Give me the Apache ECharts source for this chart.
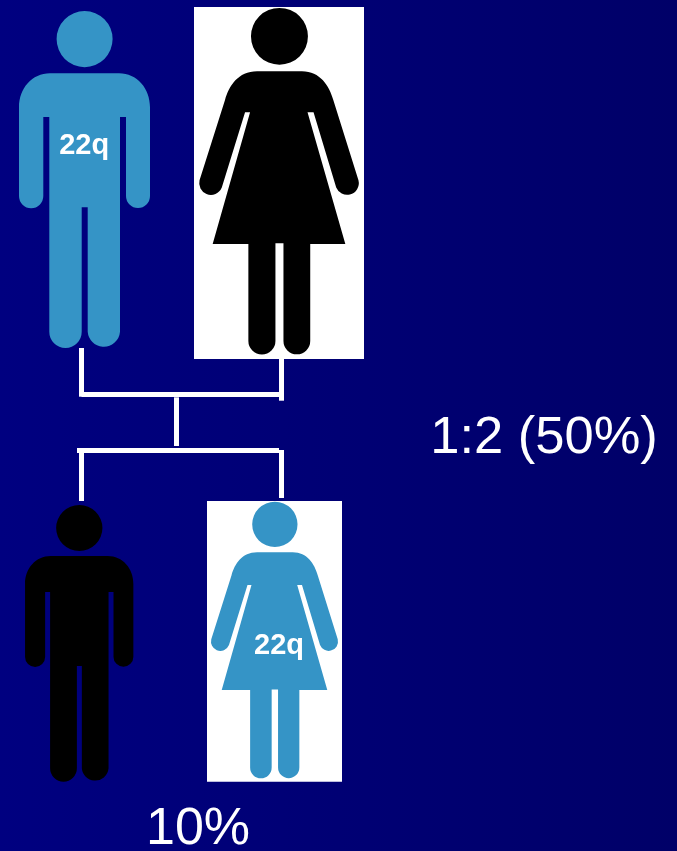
<!DOCTYPE html>
<html>
<head>
<meta charset="utf-8">
<style>html,body{margin:0;padding:0;background:#000070}#c{width:677px;height:851px}</style>
<script src="https://cdn.jsdelivr.net/npm/echarts@6/dist/echarts.min.js"></script>
</head>
<body>
<div id="c"></div>
<script>
// Figure outlines (own local units; the symbol scales each to its bounding box)
const malePath = 'path://M84.6 11A28 28 0 0 1 84.6 67A28 28 0 0 1 84.6 11Z' +
  'M50 73H119C137 73 150 88 150 107V195.6A12 12 0 0 1 126 195.6V116.7H120V331A16.2 16.2 0 0 1 87.7 331V206.7H81.7V331A16.2 16.2 0 0 1 49.3 331V116.7H43.3V195.6A12 12 0 0 1 19 195.6V107C19 88 32 73 50 73Z';
const femalePath = 'path://M279.3 8A28.4 28.4 0 0 1 279.3 64.8A28.4 28.4 0 0 1 279.3 8Z' +
  'M257 71.3H301.7C320 71.3 329 86 333 100L358.1 180.4A11.7 11.7 0 0 1 335.9 187.6L313.3 112.3H307.3L345 244H310V341A13.3 13.3 0 0 1 283.3 341V243.3H275.3V341A13.5 13.5 0 0 1 248.3 341V244H212.7L250 112.3H245L221.8 187.6A11.7 11.7 0 0 1 199.6 180.4L225 100C229 86 238 71.3 257 71.3Z';

const figureNames = ['father', 'mother', 'son', 'daughter'];
const figureCentreX = [84.5, 279, 79.2, 274.5];
const figureCentreY = [179.5, 181.2, 643.3, 640];
const figureWidth = [131, 159.6, 108.3, 127];
const figureHeight = [337, 346.5, 276.7, 276.6];
const figureColor = ['#3594c6', '#000000', '#000000', '#3594c6'];
const figureShape = [malePath, femalePath, malePath, femalePath];

const panelX = [279, 274.5];
const panelY = [183, 641.3];
const panelWidth = [170, 135];
const panelHeight = [352, 280.7];

const connectors = [
  [[81.5, 348], [81.5, 396.7]],
  [[81.5, 394.5], [279, 394.5]],
  [[281.4, 359], [281.4, 400.7]],
  [[176, 397.3], [176, 446]],
  [[77, 450.3], [279, 450.3]],
  [[81.5, 450], [81.5, 501]],
  [[281.4, 450], [281.4, 498]]
];

const labelTexts = ['22q', '22q', '1:2 (50%)', '10%'];
const labelX = [84.2, 279, 544, 198];
const labelY = [146, 645.5, 438.5, 829.5];
const labelSize = [29, 29, 52.5, 52];
const labelWeight = ['bold', 'bold', 'normal', 'normal'];

const chart = echarts.init(document.getElementById('c'), null, {renderer: 'canvas'});
chart.setOption({
  animation: false,
  backgroundColor: {
    type: 'linear', x: 0, y: 0, x2: 1, y2: 0,
    colorStops: [{offset: 0, color: '#000080'}, {offset: 1, color: '#000068'}]
  },
  grid: {left: 0, right: 0, top: 0, bottom: 0},
  xAxis: {type: 'value', min: 0, max: 677, show: false},
  yAxis: {type: 'value', min: 0, max: 851, inverse: true, show: false},
  series: [
    {
      type: 'scatter', z: 1, silent: true,
      itemStyle: {opacity: 1},
      data: panelX.map((x, i) => ({
        value: [x, panelY[i]], symbol: 'rect',
        symbolSize: [panelWidth[i], panelHeight[i]],
        itemStyle: {color: '#ffffff', opacity: 1}
      }))
    },
    {
      type: 'lines', coordinateSystem: 'cartesian2d', z: 2, silent: true,
      polyline: false,
      lineStyle: {color: '#ffffff', width: 5, opacity: 1, cap: 'butt', curveness: 0},
      data: connectors.map(c => ({coords: c}))
    },
    {
      type: 'scatter', z: 3, silent: true,
      itemStyle: {opacity: 1},
      data: figureNames.map((n, i) => ({
        name: n, value: [figureCentreX[i], figureCentreY[i]],
        symbol: figureShape[i], symbolKeepAspect: false,
        symbolSize: [figureWidth[i], figureHeight[i]],
        itemStyle: {color: figureColor[i], opacity: 1}
      }))
    },
    {
      type: 'scatter', z: 4, silent: true, symbolSize: 0,
      itemStyle: {opacity: 1},
      data: labelTexts.map((t, i) => ({
        value: [labelX[i], labelY[i]],
        itemStyle: {opacity: 1},
        label: {
          show: true, position: 'inside', formatter: t, color: '#ffffff', opacity: 1,
          fontFamily: '"Liberation Sans", Arial, sans-serif',
          fontSize: labelSize[i], fontWeight: labelWeight[i]
        }
      }))
    }
  ]
});
</script>
</body>
</html>
